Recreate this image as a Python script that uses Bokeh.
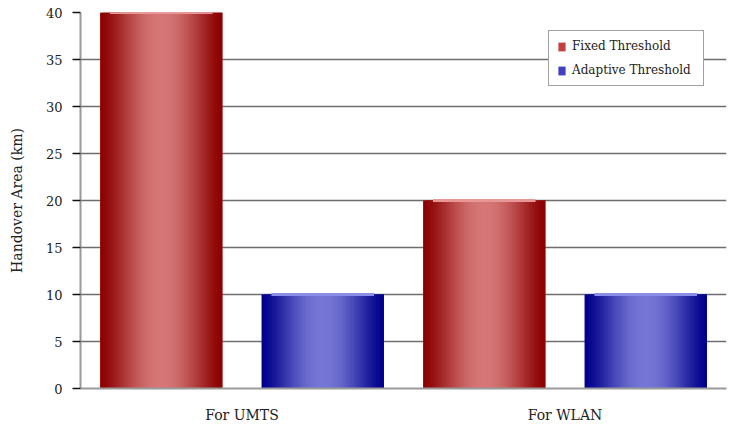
from bokeh.plotting import figure
from bokeh.models import ColumnDataSource, FactorRange, Legend, LegendItem, SingleIntervalTicker
from bokeh.transform import dodge
from bokeh.embed import file_html
from bokeh.resources import INLINE
import math

# ---- data ----
categories = ["For UMTS", "For WLAN"]
series_names = ["Fixed Threshold", "Adaptive Threshold"]
fixed_threshold = [40, 20]
adaptive_threshold = [10, 10]
y_ticks_step = 5

series_values = [fixed_threshold, adaptive_threshold]
offsets = [-0.25, 0.25]
bar_w = 0.378
dark = [(139, 0, 0), (0, 0, 139)]
light = [(214, 118, 118), (118, 118, 214)]
cap = [(232, 150, 150), (140, 140, 232)]
mid = [(196, 64, 64), (64, 64, 196)]

FONT = "DejaVu Serif"

p = figure(x_range=FactorRange(*categories, range_padding=0), y_range=(0, 40),
           width=738, height=426, output_backend="svg", toolbar_location=None,
           min_border_left=80, min_border_right=12, min_border_top=12, min_border_bottom=38)
p.x_range.range_padding = 0
p.outline_line_color = None
p.background_fill_color = "white"

def hexc(c):
    return "#%02x%02x%02x" % tuple(int(round(v)) for v in c)

N = 48
legend_items = []
for s, vals in enumerate(series_values):
    src = ColumnDataSource(dict(cat=categories, top=vals))
    base = p.vbar(x=dodge("cat", offsets[s], range=p.x_range), top="top", bottom=0,
                  width=bar_w, fill_color=hexc(mid[s]), line_color=None, source=src)
    legend_items.append(LegendItem(label=series_names[s], renderers=[base]))
    for j in range(N):
        t = (j + 0.5) / N
        f = math.sin(math.pi * t) ** 1.4
        col = tuple(dark[s][k] + (light[s][k] - dark[s][k]) * f for k in range(3))
        w = bar_w / N * (2.0 if j < N - 1 else 1.0)
        left = offsets[s] - bar_w / 2 + j * bar_w / N
        p.vbar(x=dodge("cat", left + w / 2, range=p.x_range), top="top", bottom=0,
               width=w, fill_color=hexc(col), line_color=None, source=src)
    # top cap highlight
    p.vbar(x=dodge("cat", offsets[s], range=p.x_range), top="top", bottom="top",
           width=bar_w * 0.84, fill_color=None, line_color=hexc(cap[s]), line_width=3,
           source=src)

# axes & grid
p.yaxis.ticker = SingleIntervalTicker(interval=y_ticks_step)
p.ygrid.ticker = SingleIntervalTicker(interval=y_ticks_step)
p.ygrid.grid_line_color = "#6e6e6e"
p.ygrid.grid_line_width = 1.5
p.xgrid.grid_line_color = None
p.ygrid.level = "underlay"

p.yaxis.axis_label = "Handover Area (km)"
p.yaxis.axis_label_text_font = FONT
p.yaxis.axis_label_text_font_size = "14px"
p.yaxis.axis_label_text_font_style = "normal"
p.yaxis.axis_label_text_color = "#222222"
p.yaxis.axis_label_standoff = 18
p.yaxis.major_label_text_font = FONT
p.yaxis.major_label_text_font_size = "13px"
p.yaxis.major_label_text_color = "#222222"
p.yaxis.major_label_standoff = 10
p.yaxis.major_tick_in = 0
p.yaxis.major_tick_out = 8
p.yaxis.major_tick_line_color = "#111111"
p.yaxis.major_tick_line_width = 1.5
p.yaxis.minor_tick_line_color = None
p.yaxis.axis_line_color = "#9a9a9a"
p.yaxis.axis_line_width = 2

p.xaxis.major_label_text_font = FONT
p.xaxis.major_label_text_font_size = "14px"
p.xaxis.major_label_text_color = "#222222"
p.xaxis.major_label_standoff = 12
p.xaxis.major_tick_line_color = None
p.xaxis.axis_line_color = "#9a9a9a"
p.xaxis.axis_line_width = 2

legend = Legend(items=legend_items, location=(468, 302))
legend.label_text_font = FONT
legend.label_text_font_size = "12px"
legend.label_text_color = "#222222"
legend.label_width = 123
legend.glyph_width = 9
legend.glyph_height = 11
legend.label_standoff = 6
legend.spacing = 10
legend.padding = 8
legend.margin = 0
legend.border_line_color = "#444444"
legend.border_line_width = 1.5
legend.background_fill_color = "white"
legend.background_fill_alpha = 1
p.add_layout(legend, "center")

open("out.html", "w").write(file_html(p, INLINE))
